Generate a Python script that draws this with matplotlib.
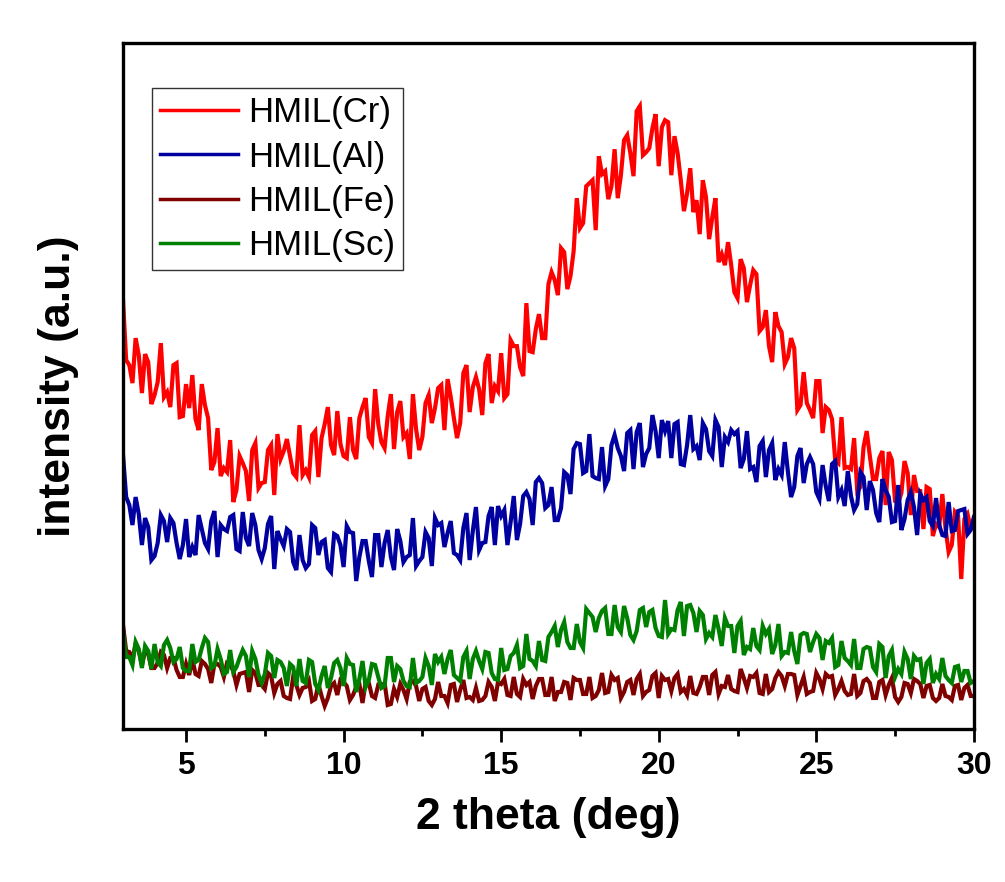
import numpy as np
import matplotlib
matplotlib.use("Agg")
import matplotlib.pyplot as plt
from matplotlib.ticker import MultipleLocator

# ---- data (arbitrary intensity units) ----
# readings at 2theta = 3.0, 3.2, ..., 30.0  (suffix _a)
# readings at 2theta = 3.1, 3.3, ..., 29.9  (suffix _b)
two_theta_a = np.round(np.arange(3.0, 30.0001, 0.2), 1)
two_theta_b = np.round(np.arange(3.1, 29.9001, 0.2), 1)

hmil_cr_a = [
    429, 364, 391, 336, 367, 334, 386, 337, 364, 312,
    345, 354, 299, 324, 259, 301, 261, 289, 239, 266,
    228, 286, 246, 279, 234, 270, 290, 256, 304, 259,
    294, 252, 305, 284, 318, 273, 312, 270, 322, 292,
    340, 287, 313, 280, 328, 296, 335, 279, 326, 306,
    341, 299, 332, 291, 356, 317, 352, 314, 375, 343,
    376, 335, 383, 362, 426, 377, 415, 391, 457, 434,
    477, 453, 531, 506, 546, 499, 555, 530, 580, 554,
    594, 553, 623, 577, 601, 563, 609, 554, 576, 518,
    561, 529, 549, 490, 531, 475, 487, 437, 470, 427,
    459, 398, 419, 367, 403, 365, 391, 319, 357, 319,
    348, 296, 319, 269, 312, 262, 291, 242, 298, 250,
    271, 224, 269, 226, 268, 214, 238, 200, 240, 205,
    235, 177, 217, 150, 215, 205,
]
hmil_cr_b = [
    369, 346, 374, 375, 325, 347, 332, 322, 366, 313,
    321, 310, 345, 311, 267, 253, 257, 227, 273, 258,
    279, 241, 247, 284, 295, 278, 273, 252, 254, 252,
    298, 291, 322, 274, 285, 271, 279, 311, 331, 286,
    305, 281, 335, 317, 292, 270, 300, 292, 334, 321,
    344, 350, 311, 306, 364, 342, 340, 366, 326, 338,
    331, 389, 383, 353, 378, 400, 391, 445, 449, 481,
    440, 478, 501, 543, 549, 573, 558, 543, 531, 589,
    576, 618, 574, 581, 615, 602, 607, 593, 549, 536,
    517, 495, 532, 512, 467, 464, 464, 431, 461, 444,
    455, 402, 383, 417, 397, 372, 381, 324, 326, 311,
    348, 322, 310, 266, 261, 260, 238, 282, 273, 250,
    278, 277, 228, 236, 256, 254, 238, 242, 193, 202,
    201, 184, 213, 210, 201,
]

hmil_al_a = [
    274, 224, 232, 184, 202, 173, 214, 187, 206, 170,
    210, 182, 214, 186, 208, 172, 200, 212, 180, 217,
    183, 204, 170, 205, 160, 190, 200, 167, 194, 161,
    204, 174, 189, 157, 193, 162, 197, 148, 188, 168,
    194, 162, 199, 159, 188, 172, 211, 168, 197, 163,
    204, 182, 208, 174, 201, 169, 222, 186, 213, 184,
    213, 184, 233, 205, 237, 204, 251, 221, 242, 209,
    257, 235, 286, 256, 295, 251, 282, 250, 294, 273,
    296, 260, 306, 275, 314, 271, 298, 271, 307, 264,
    314, 283, 306, 278, 309, 262, 287, 295, 261, 298,
    262, 283, 252, 286, 260, 287, 232, 273, 246, 272,
    237, 264, 228, 268, 239, 258, 219, 257, 219, 239,
    207, 239, 207, 244, 210, 237, 194, 229, 208, 231,
    194, 227, 199, 219, 195, 212,
]
hmil_al_b = [
    232, 204, 215, 211, 169, 186, 208, 211, 186, 184,
    172, 174, 200, 180, 218, 204, 198, 214, 178, 191,
    216, 179, 181, 213, 198, 183, 197, 159, 169, 165,
    201, 187, 161, 195, 184, 203, 196, 172, 188, 152,
    194, 186, 172, 200, 167, 174, 163, 172, 191, 211,
    206, 196, 176, 169, 216, 198, 179, 187, 222, 223,
    219, 207, 189, 233, 230, 247, 246, 224, 209, 221,
    254, 280, 285, 258, 253, 250, 243, 284, 281, 258,
    299, 297, 262, 281, 298, 309, 308, 305, 265, 284,
    280, 269, 300, 273, 302, 292, 299, 298, 270, 260,
    247, 288, 279, 249, 254, 257, 242, 281, 265, 265,
    230, 243, 265, 232, 223, 233, 225, 252, 248, 216,
    250, 232, 208, 199, 229, 222, 235, 232, 203, 204,
    193, 198, 218, 220, 199,
]

hmil_fe_a = [
    104, 77, 85, 64, 75, 61, 77, 61, 71, 52,
    65, 70, 53, 65, 46, 65, 52, 64, 44, 56,
    37, 56, 44, 56, 36, 48, 31, 52, 34, 42,
    28, 45, 23, 43, 34, 47, 29, 42, 26, 46,
    31, 43, 24, 40, 45, 30, 48, 28, 42, 24,
    47, 33, 44, 27, 49, 32, 41, 29, 47, 28,
    45, 34, 52, 32, 44, 30, 50, 34, 52, 37,
    47, 29, 49, 35, 52, 33, 56, 37, 49, 31,
    47, 34, 55, 37, 53, 31, 49, 38, 55, 40,
    53, 35, 52, 34, 57, 43, 54, 38, 60, 41,
    52, 36, 55, 40, 57, 43, 55, 34, 52, 37,
    56, 40, 52, 34, 48, 34, 55, 36, 50, 31,
    47, 34, 51, 27, 46, 36, 48, 31, 44, 28,
    45, 32, 43, 29, 44, 33,
]
hmil_fe_b = [
    78, 70, 78, 78, 61, 66, 74, 71, 59, 52,
    54, 55, 68, 60, 65, 62, 66, 58, 55, 57,
    59, 44, 40, 53, 45, 33, 30, 44, 41, 48,
    30, 33, 31, 46, 49, 43, 34, 45, 47, 33,
    44, 46, 25, 32, 39, 47, 43, 40, 28, 30,
    33, 26, 45, 39, 31, 29, 28, 33, 42, 47,
    50, 33, 35, 50, 47, 43, 50, 34, 28, 37,
    46, 51, 49, 35, 31, 39, 36, 54, 51, 37,
    49, 50, 33, 39, 56, 53, 50, 51, 37, 34,
    36, 42, 52, 54, 35, 42, 40, 37, 51, 53,
    56, 35, 37, 51, 53, 55, 54, 43, 35, 38,
    50, 55, 53, 40, 38, 35, 33, 48, 46, 31,
    49, 44, 32, 32, 45, 50, 45, 43, 31, 31,
    33, 29, 44, 41, 33,
]

hmil_sc_a = [
    98, 72, 87, 61, 78, 85, 63, 89, 67, 82,
    58, 85, 69, 91, 61, 80, 55, 79, 62, 79,
    52, 70, 46, 76, 51, 67, 43, 62, 70, 46,
    67, 39, 63, 51, 69, 43, 65, 37, 68, 49,
    64, 41, 71, 47, 60, 43, 71, 48, 71, 44,
    67, 55, 79, 51, 72, 50, 78, 60, 76, 50,
    81, 60, 76, 61, 95, 68, 88, 68, 97, 82,
    107, 81, 105, 81, 116, 97, 118, 95, 124, 97,
    111, 89, 119, 102, 119, 93, 129, 100, 119, 93,
    124, 97, 114, 96, 114, 83, 103, 76, 108, 82,
    101, 79, 95, 75, 105, 77, 97, 65, 96, 77,
    95, 69, 86, 62, 88, 68, 90, 61, 82, 62,
    85, 51, 79, 60, 77, 50, 69, 45, 70, 55,
    71, 49, 62, 47, 58, 48,
]
hmil_sc_b = [
    72, 64, 80, 83, 60, 67, 84, 81, 70, 61,
    58, 67, 81, 87, 63, 70, 57, 57, 71, 73,
    78, 54, 55, 73, 69, 61, 65, 43, 48, 69,
    45, 53, 41, 66, 61, 71, 64, 50, 42, 65,
    52, 43, 71, 63, 48, 42, 46, 52, 63, 75,
    72, 70, 54, 48, 78, 70, 68, 77, 56, 49,
    59, 73, 84, 63, 70, 63, 69, 92, 103, 99,
    87, 81, 87, 120, 112, 111, 121, 95, 102, 123,
    94, 98, 121, 117, 101, 92, 95, 99, 127, 123,
    116, 118, 90, 92, 100, 111, 103, 103, 74, 80,
    83, 103, 100, 84, 73, 76, 78, 94, 95, 87,
    91, 88, 91, 64, 71, 64, 61, 80, 81, 57,
    82, 73, 52, 55, 70, 73, 70, 66, 46, 50,
    53, 46, 63, 58, 46,
]

labels = ["HMIL(Cr)", "HMIL(Al)", "HMIL(Fe)", "HMIL(Sc)"]
colors = ["#ff0000", "#0000a0", "#800000", "#008000"]
x_ticks = [5, 10, 15, 20, 25, 30]


def merge(a_vals, b_vals):
    """Interleave the two sets of readings into one ordered scan."""
    out = np.empty(len(a_vals) + len(b_vals))
    out[0::2] = a_vals
    out[1::2] = b_vals
    return out


two_theta = merge(two_theta_a, two_theta_b)
series = [merge(hmil_cr_a, hmil_cr_b), merge(hmil_al_a, hmil_al_b),
          merge(hmil_fe_a, hmil_fe_b), merge(hmil_sc_a, hmil_sc_b)]

# ---- plot ----
plt.rcParams['font.family'] = ['Liberation Sans', 'DejaVu Sans']

fig = plt.figure(figsize=(10.05, 8.82), dpi=100)
ax = fig.add_axes([0.1224, 0.1735, 0.8466, 0.7775])

for ys, lab, col in zip(series, labels, colors):
    ax.plot(two_theta, ys, color=col, lw=3.0, label=lab, solid_joinstyle='miter')

ax.set_xlim(3, 30)
ax.set_ylim(0, 686)

ax.set_xticks(x_ticks)
ax.xaxis.set_minor_locator(MultipleLocator(2.5))
ax.set_yticks([])
ax.tick_params(axis='x', which='major', direction='out', length=9.5, width=2,
               labelsize=23, pad=6)
ax.tick_params(axis='x', which='minor', direction='out', length=5, width=2)
for lbl in ax.get_xticklabels():
    lbl.set_fontweight('bold')
for sp in ax.spines.values():
    sp.set_linewidth(2.4)

ax.set_xlabel("2 theta (deg)", fontsize=32, fontweight='bold', labelpad=12)
ax.set_ylabel("intensity (a.u.)", fontsize=32, fontweight='bold', labelpad=32)

leg = ax.legend(loc='upper left', bbox_to_anchor=(0.034, 0.934), borderaxespad=0,
                fontsize=25, frameon=True, fancybox=False, edgecolor='black',
                handlelength=2.25, handletextpad=0.3, labelspacing=0.33,
                borderpad=0.22)
leg.get_frame().set_linewidth(1.0)
for line in leg.get_lines():
    line.set_linewidth(2.5)

fig.savefig("out.png", dpi=100, facecolor='white')
